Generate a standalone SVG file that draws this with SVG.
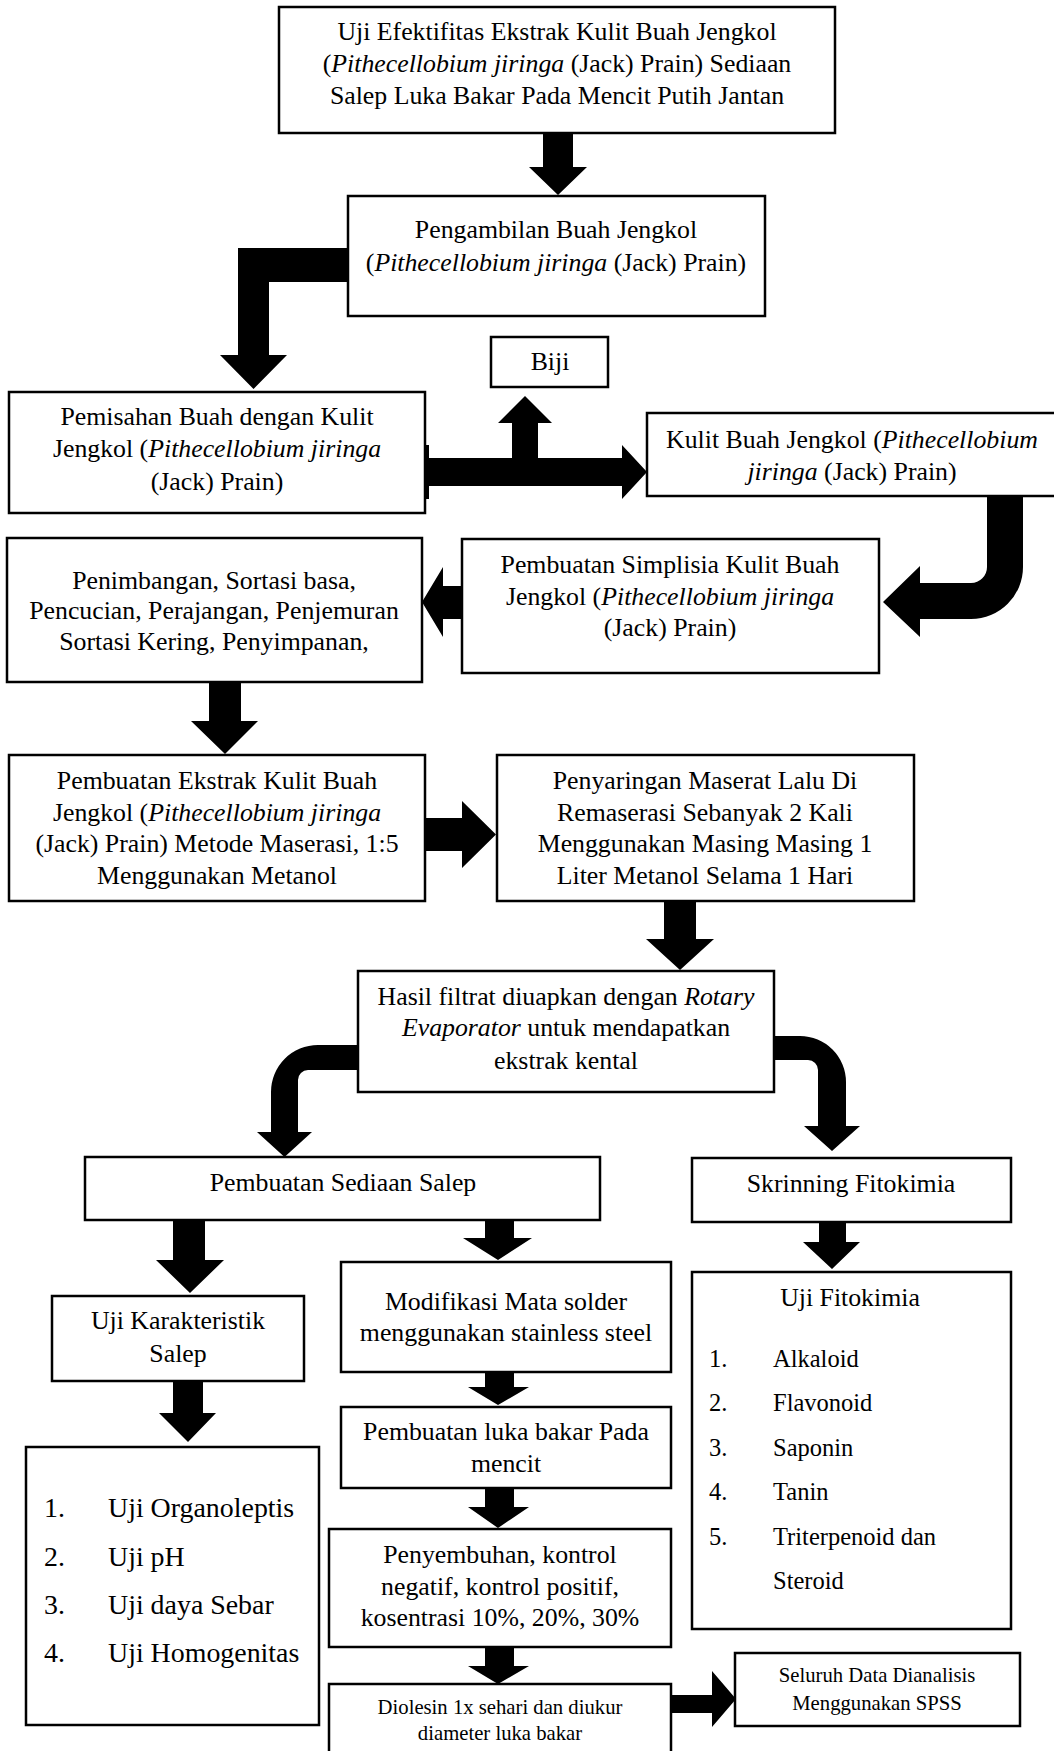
<svg xmlns="http://www.w3.org/2000/svg" width="1054" height="1751" viewBox="0 0 1054 1751">
<style>
.box{fill:#fff;stroke:#000;stroke-width:2.5}
.t{font-family:"Liberation Serif","Times New Roman",serif;font-size:25.8px;fill:#000;text-anchor:middle}
.s{font-family:"Liberation Serif","Times New Roman",serif;font-size:20.7px;fill:#000;text-anchor:middle}
.l{font-family:"Liberation Serif","Times New Roman",serif;font-size:27.9px;fill:#000}
.n{font-family:"Liberation Serif","Times New Roman",serif;font-size:24.5px;fill:#000}
.it{font-style:italic}
.arr{fill:#000;stroke:none}
</style>
<rect width="1054" height="1751" fill="#fff"/>
<g id="connectors">
<path class="arr" d="M543,133 H573 V167 H587 L558,195 L529,167 H543 Z"/>
<path class="arr" d="M348,248 H238 V355 H220 L253.5,389 L287,355 H269 V282 H348 Z"/>
<path class="arr" d="M425,458 H512 V423 H498 L525,396 L552,423 H538 V458 H622 V445 L647,472 L622,499 V486 H425 Z"/>
<rect class="arr" x="426" y="445" width="3" height="54"/>
<path class="arr" d="M987,496 V567 A16,16 0 0 1 971,583 H920 V566 L883,602 L920,637 V619 H971 A52,52 0 0 0 1023,567 V496 Z"/>
<path class="arr" d="M462,586 V619 H443 V637 L422,602 L443,567 V586 Z"/>
<path class="arr" d="M209,682 H241 V721 H258 L225,754 L191,721 H209 Z"/>
<path class="arr" d="M425,818 H462 V801 L496,834.5 L462,868 V851 H425 Z"/>
<path class="arr" d="M664,901 H696 V939 H714 L680,970 L646,939 H664 Z"/>
<path class="arr" d="M358,1045 H318 A47,47 0 0 0 271,1092 V1132 H257 L284.5,1157 L312,1132 H298 V1080 A10,10 0 0 1 308,1070 H358 Z"/>
<path class="arr" d="M774,1036 H800 A46,46 0 0 1 846,1082 V1126 H860 L832,1151 L804,1126 H818 V1070 A10,10 0 0 0 808,1060 H774 Z"/>
<path class="arr" d="M173,1220 H205 V1260 H224 L190,1293 L156,1260 H173 Z"/>
<path class="arr" d="M485,1220 H514 V1238 H532 L498,1260 L463,1238 H485 Z"/>
<path class="arr" d="M819,1222 H846 V1242 H860 L832,1269 L803,1242 H819 Z"/>
<path class="arr" d="M173,1381 H203 V1413 H216 L188,1442 L159,1413 H173 Z"/>
<path class="arr" d="M485,1372 H514 V1387 H529 L498,1405 L468,1387 H485 Z"/>
<path class="arr" d="M485,1488 H514 V1507 H529 L498,1528 L468,1507 H485 Z"/>
<path class="arr" d="M485,1647 H514 V1666 H529 L498,1684 L468,1666 H485 Z"/>
<path class="arr" d="M671,1695 H712 V1671 L736,1699 L712,1727 V1713 H671 Z"/>
</g>
<g id="nodeA">
<rect class="box" x="279" y="7" width="556" height="126"/>
<text class="t" x="557" y="40">Uji Efektifitas Ekstrak Kulit Buah Jengkol</text>
<text class="t" x="557" y="72">(<tspan class="it">Pithecellobium jiringa</tspan> (Jack) Prain) Sediaan</text>
<text class="t" x="557" y="104">Salep Luka Bakar Pada Mencit Putih Jantan</text>
</g>
<g id="nodeB">
<rect class="box" x="348" y="196" width="417" height="120"/>
<text class="t" x="556" y="238">Pengambilan Buah Jengkol</text>
<text class="t" x="556" y="271">(<tspan class="it">Pithecellobium jiringa</tspan> (Jack) Prain)</text>
</g>
<g id="nodeC">
<rect class="box" x="9" y="392" width="416" height="121"/>
<text class="t" x="217" y="425">Pemisahan Buah dengan Kulit</text>
<text class="t" x="217" y="457">Jengkol (<tspan class="it">Pithecellobium jiringa</tspan></text>
<text class="t" x="217" y="490">(Jack) Prain)</text>
</g>
<g id="nodeBiji">
<rect class="box" x="491" y="337" width="117" height="50"/>
<text class="t" x="550" y="370">Biji</text>
</g>
<g id="nodeD">
<rect class="box" x="647" y="413" width="410" height="83"/>
<text class="t" x="852" y="448">Kulit Buah Jengkol (<tspan class="it">Pithecellobium</tspan></text>
<text class="t" x="852" y="480"><tspan class="it">jiringa</tspan> (Jack) Prain)</text>
</g>
<g id="nodeE">
<rect class="box" x="462" y="539" width="417" height="134"/>
<text class="t" x="670" y="573">Pembuatan Simplisia Kulit Buah</text>
<text class="t" x="670" y="605">Jengkol (<tspan class="it">Pithecellobium jiringa</tspan></text>
<text class="t" x="670" y="636">(Jack) Prain)</text>
</g>
<g id="nodeF">
<rect class="box" x="7" y="538" width="415" height="144"/>
<text class="t" x="214" y="589">Penimbangan, Sortasi basa,</text>
<text class="t" x="214" y="619">Pencucian, Perajangan, Penjemuran</text>
<text class="t" x="214" y="650">Sortasi Kering, Penyimpanan,</text>
</g>
<g id="nodeG">
<rect class="box" x="9" y="755" width="416" height="146"/>
<text class="t" x="217" y="789">Pembuatan Ekstrak Kulit Buah</text>
<text class="t" x="217" y="821">Jengkol (<tspan class="it">Pithecellobium jiringa</tspan></text>
<text class="t" x="217" y="852">(Jack) Prain) Metode Maserasi, 1:5</text>
<text class="t" x="217" y="884">Menggunakan Metanol</text>
</g>
<g id="nodeH">
<rect class="box" x="497" y="755" width="417" height="146"/>
<text class="t" x="705" y="789">Penyaringan Maserat Lalu Di</text>
<text class="t" x="705" y="821">Remaserasi Sebanyak 2 Kali</text>
<text class="t" x="705" y="852">Menggunakan Masing Masing 1</text>
<text class="t" x="705" y="884">Liter Metanol Selama 1 Hari</text>
</g>
<g id="nodeI">
<rect class="box" x="358" y="971" width="416" height="121"/>
<text class="t" x="566" y="1005">Hasil filtrat diuapkan dengan <tspan class="it">Rotary</tspan></text>
<text class="t" x="566" y="1036"><tspan class="it">Evaporator</tspan> untuk mendapatkan</text>
<text class="t" x="566" y="1069">ekstrak kental</text>
</g>
<g id="nodeJ">
<rect class="box" x="85" y="1157" width="515" height="63"/>
<text class="t" x="343" y="1191">Pembuatan Sediaan Salep</text>
</g>
<g id="nodeK">
<rect class="box" x="692" y="1158" width="319" height="64"/>
<text class="t" x="851" y="1192">Skrinning Fitokimia</text>
</g>
<g id="nodeL">
<rect class="box" x="52" y="1296" width="252" height="85"/>
<text class="t" x="178" y="1329">Uji Karakteristik</text>
<text class="t" x="178" y="1362">Salep</text>
</g>
<g id="nodeO">
<rect class="box" x="26" y="1447" width="293" height="278"/>
<text class="l" x="44" y="1517">1.</text><text class="l" x="108" y="1517">Uji Organoleptis</text>
<text class="l" x="44" y="1566">2.</text><text class="l" x="108" y="1566">Uji pH</text>
<text class="l" x="44" y="1614">3.</text><text class="l" x="108" y="1614">Uji daya Sebar</text>
<text class="l" x="44" y="1662">4.</text><text class="l" x="108" y="1662">Uji Homogenitas</text>
</g>
<g id="nodeM">
<rect class="box" x="341" y="1262" width="330" height="110"/>
<text class="t" x="506" y="1310">Modifikasi Mata solder</text>
<text class="t" x="506" y="1341">menggunakan stainless steel</text>
</g>
<g id="nodeP">
<rect class="box" x="341" y="1407" width="330" height="81"/>
<text class="t" x="506" y="1440">Pembuatan luka bakar Pada</text>
<text class="t" x="506" y="1472">mencit</text>
</g>
<g id="nodeQ">
<rect class="box" x="329" y="1529" width="342" height="118"/>
<text class="t" x="500" y="1563">Penyembuhan, kontrol</text>
<text class="t" x="500" y="1595">negatif, kontrol positif,</text>
<text class="t" x="500" y="1626">kosentrasi 10%, 20%, 30%</text>
</g>
<g id="nodeR">
<rect class="box" x="329" y="1684" width="342" height="80"/>
<text class="s" x="500" y="1714">Diolesin 1x sehari dan diukur</text>
<text class="s" x="500" y="1740">diameter luka bakar</text>
</g>
<g id="nodeS">
<rect class="box" x="735" y="1653" width="285" height="73"/>
<text class="s" x="877" y="1682">Seluruh Data Dianalisis</text>
<text class="s" x="877" y="1710">Menggunakan SPSS</text>
</g>
<g id="nodeN">
<rect class="box" x="692" y="1272" width="319" height="357"/>
<text class="t" x="850" y="1306">Uji Fitokimia</text>
<text class="n" x="709" y="1367">1.</text><text class="n" x="773" y="1367">Alkaloid</text>
<text class="n" x="709" y="1411">2.</text><text class="n" x="773" y="1411">Flavonoid</text>
<text class="n" x="709" y="1456">3.</text><text class="n" x="773" y="1456">Saponin</text>
<text class="n" x="709" y="1500">4.</text><text class="n" x="773" y="1500">Tanin</text>
<text class="n" x="709" y="1545">5.</text><text class="n" x="773" y="1545">Triterpenoid dan</text>
<text class="n" x="773" y="1589">Steroid</text>
</g>
</svg>
